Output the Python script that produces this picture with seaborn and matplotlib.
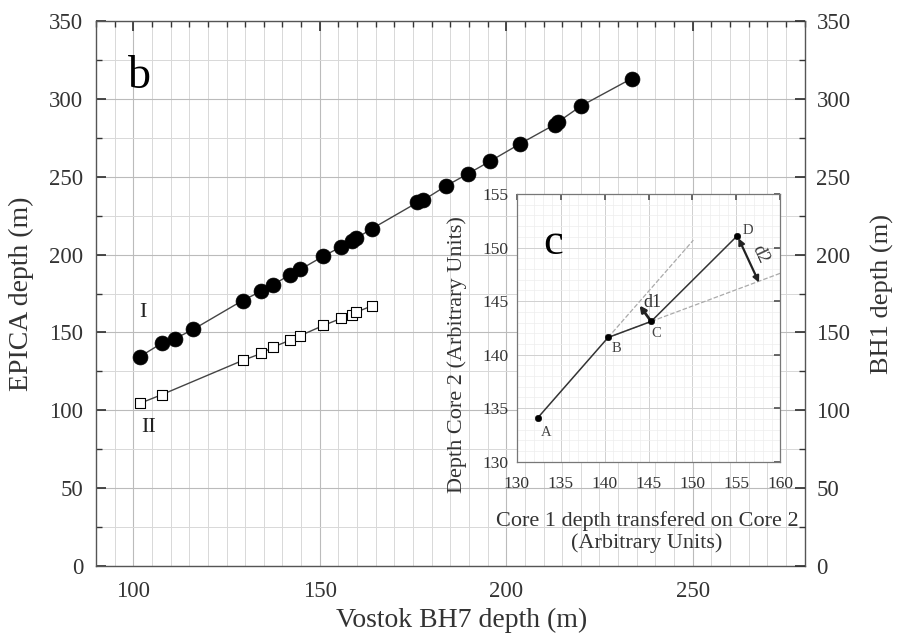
import numpy as np
import pandas as pd
import matplotlib
matplotlib.use("Agg")
import matplotlib.pyplot as plt
import seaborn as sns
from matplotlib.ticker import MultipleLocator

# ---- data ----
vostok_I = [101.8, 107.6, 111.2, 116.1, 129.3, 134.3, 137.4, 142.0, 144.8, 151.0, 155.7,
            158.7, 159.8, 163.9, 176.2, 177.8, 183.8, 189.8, 195.7, 203.6, 213.0, 213.8,
            220.1, 233.6]
epica_I = [134.5, 143.0, 146.0, 152.0, 170.5, 176.5, 180.5, 187.0, 190.5, 199.0, 205.0,
           209.0, 210.5, 216.5, 233.5, 235.0, 244.0, 252.0, 260.0, 271.0, 283.5, 285.0,
           295.5, 313.0]
vostok_II = [101.8, 107.6, 129.3, 134.3, 137.4, 142.0, 144.8, 151.0, 155.7, 158.7, 159.8, 163.9]
bh1_II = [104.5, 110.0, 132.0, 136.5, 140.5, 145.0, 148.0, 154.5, 159.0, 161.5, 163.0, 167.0]

inset_labels = ["A", "B", "C", "D"]
inset_x = [132.4, 140.4, 145.3, 155.1]
inset_y = [134.1, 141.6, 143.1, 151.1]

sns.set_theme(style="white")
plt.rcParams["font.family"] = ["Liberation Serif", "DejaVu Serif"]

TXT = "#333333"
fig = plt.figure(figsize=(8.97, 6.36), dpi=100)
ax = fig.add_axes([0.107, 0.110, 0.790, 0.857])

dfI = pd.DataFrame({"x": vostok_I, "y": epica_I})
dfII = pd.DataFrame({"x": vostok_II, "y": bh1_II})

sns.lineplot(data=dfI, x="x", y="y", ax=ax, color="#444444", lw=1.0, sort=False,
             estimator=None, zorder=3)
sns.scatterplot(data=dfI, x="x", y="y", ax=ax, color="black", s=115, marker="o",
                edgecolor="black", linewidth=0.5, zorder=4)
sns.lineplot(data=dfII, x="x", y="y", ax=ax, color="#444444", lw=1.0, sort=False,
             estimator=None, zorder=3)
sns.scatterplot(data=dfII, x="x", y="y", ax=ax, color="white", s=60, marker="s",
                edgecolor="black", linewidth=0.8, zorder=4)

ax.set_xlim(90, 280)
ax.set_ylim(0, 350)
ax.xaxis.set_major_locator(MultipleLocator(50))
ax.xaxis.set_minor_locator(MultipleLocator(5))
ax.yaxis.set_major_locator(MultipleLocator(50))
ax.yaxis.set_minor_locator(MultipleLocator(25))
ax.grid(which="major", color="#bbbbbb", lw=0.8)
ax.grid(which="minor", color="#d8d8d8", lw=0.7)
ax.tick_params(which="both", direction="in", top=True, right=False, colors=TXT,
               labelsize=16.5, labelcolor=TXT)
ax.tick_params(which="major", length=7)
ax.tick_params(which="minor", length=4)
ax.tick_params(axis="x", pad=10.5)
ax.tick_params(axis="y", pad=9)
ax.set_xlabel("Vostok BH7 depth (m)", fontsize=20, color=TXT)
ax.set_ylabel("EPICA depth (m)", fontsize=20, color=TXT)
ax.xaxis.set_label_coords(0.516, -0.077)
ax.yaxis.set_label_coords(-0.087, 0.5)
for s in ax.spines.values():
    s.set_color("#555555")
    s.set_linewidth(1.0)

ax2 = ax.twinx()
ax2.set_ylim(0, 350)
ax2.yaxis.set_major_locator(MultipleLocator(50))
ax2.yaxis.set_minor_locator(MultipleLocator(25))
ax2.tick_params(which="both", direction="in", labelsize=16.5, labelcolor=TXT,
                colors=TXT, pad=8.5)
ax2.tick_params(which="major", length=7)
ax2.tick_params(which="minor", length=4)
ax2.set_ylabel("BH1 depth (m)", fontsize=19, color=TXT)
ax2.yaxis.set_label_coords(1.093, 0.5)
ax2.grid(False)
for s in ax2.spines.values():
    s.set_visible(False)

ax.text(98.6, 314, "b", fontsize=33, ha="left", va="center", color="black")
ax.text(101.5, 163, "I", fontsize=16, ha="left", va="center", color="#222222")
ax.text(102.0, 89, "II", fontsize=16, ha="left", va="center", color="#222222")

# ---- inset c ----
axi = fig.add_axes([0.576, 0.274, 0.294, 0.421])
axi.set_facecolor("white")
axi.set_xlim(130, 160)
axi.set_ylim(130, 155)
axi.xaxis.set_major_locator(MultipleLocator(5))
axi.yaxis.set_major_locator(MultipleLocator(5))
axi.xaxis.set_minor_locator(MultipleLocator(1))
axi.yaxis.set_minor_locator(MultipleLocator(1))
axi.grid(which="major", color="#d0d0d0", lw=0.7)
axi.grid(which="minor", color="#ededed", lw=0.5)
axi.tick_params(which="both", direction="in", labelsize=12.5, labelcolor=TXT,
                colors="#555555", top=True, right=True)
axi.tick_params(which="major", length=4)
axi.tick_params(which="minor", length=0)
axi.tick_params(axis="x", pad=10)
axi.tick_params(axis="y", pad=6)
for s in axi.spines.values():
    s.set_color("#777777")
    s.set_linewidth(0.9)

# dashed extension lines
bx, by = inset_x[1], inset_y[1]
ax_, ay_ = inset_x[0], inset_y[0]
cx, cy = inset_x[2], inset_y[2]
dx, dy = inset_x[3], inset_y[3]
slope_ab = (by - ay_) / (bx - ax_)
slope_bc = (cy - by) / (cx - bx)
axi.plot([bx, 150.1], [by, by + slope_ab * (150.1 - bx)], ls="--", color="#aaaaaa", lw=0.9)
axi.plot([bx, 160.0], [by, by + slope_bc * (160.0 - bx)], ls="--", color="#aaaaaa", lw=0.9)

dfc = pd.DataFrame({"x": inset_x, "y": inset_y})
sns.lineplot(data=dfc, x="x", y="y", ax=axi, color="#333333", lw=1.1, sort=False,
             estimator=None)
sns.scatterplot(data=dfc, x="x", y="y", ax=axi, color="black", s=22, edgecolor="black",
                zorder=5)

axi.annotate("", xy=(143.8, 144.8), xytext=(cx, cy),
             arrowprops=dict(arrowstyle="-|>", color="#222222", lw=2.0, mutation_scale=9))
axi.annotate("", xy=(157.7, 146.5), xytext=(dx, dy),
             arrowprops=dict(arrowstyle="<|-|>", color="#222222", lw=1.6, mutation_scale=9))
axi.text(145.4, 144.9, "d1", fontsize=13, ha="center", va="center", color=TXT)
axi.text(157.7, 149.4, "d2", fontsize=13, ha="center", va="center", color=TXT,
         rotation=-65)

offs = {"A": (0.9, -1.4), "B": (0.9, -1.0), "C": (0.6, -1.1), "D": (1.2, 0.5)}
for lab, x, y in zip(inset_labels, inset_x, inset_y):
    ox, oy = offs[lab]
    axi.text(x + ox, y + oy, lab, fontsize=10.5, ha="center", va="center", color="#444444")

axi.text(134.2, 150.4, "c", fontsize=32, ha="center", va="center", color="black")
axi.set_xlabel("Core 1 depth transfered on Core 2\n(Arbitrary Units)", fontsize=16,
               color=TXT, linespacing=1.15)
axi.set_ylabel("Depth Core 2 (Arbitrary Units)", fontsize=16, color=TXT)
axi.xaxis.set_label_coords(0.494, -0.185)
axi.yaxis.set_label_coords(-0.19, 0.40)

fig.savefig("out.png", dpi=100)
